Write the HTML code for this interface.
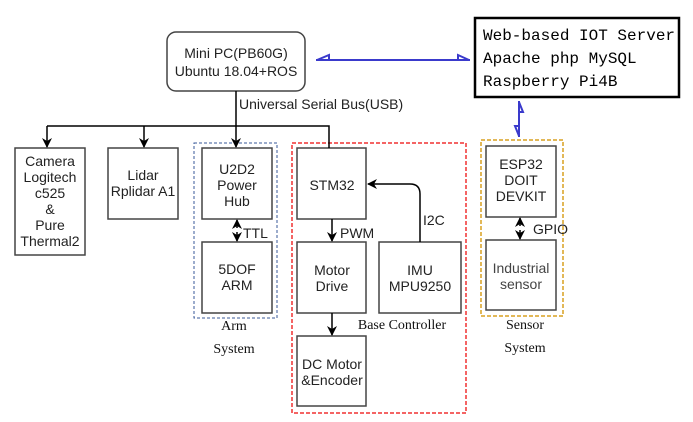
<!DOCTYPE html>
<html><head><meta charset="utf-8"><style>
html,body{margin:0;padding:0;background:#fff;width:693px;height:422px;overflow:hidden}
svg{display:block}
.s{font-family:"Liberation Sans",sans-serif;font-size:14px;fill:#222}
.r{font-family:"Liberation Serif",serif;font-size:14px;fill:#111}
.m{font-family:"Liberation Mono",monospace;font-size:16px;fill:#000}
</style></head><body>
<svg width="693" height="422" viewBox="0 0 693 422" xmlns="http://www.w3.org/2000/svg">
<defs>
<marker id="a" markerWidth="10" markerHeight="10" refX="9" refY="5" orient="auto" markerUnits="userSpaceOnUse"><path d="M0,0 L10,5 L0,10 L3,5 z" fill="#000"/></marker>
</defs>
<g stroke="#444" stroke-width="1.5" fill="#fff">
<rect x="167" y="32" width="138" height="59" rx="9"/>
<rect x="15" y="148" width="70" height="107"/>
<rect x="108" y="148" width="70" height="71"/>
<rect x="202" y="148" width="70" height="71"/>
<rect x="202" y="242" width="70" height="71"/>
<rect x="297" y="148" width="69" height="71"/>
<rect x="297" y="242" width="69" height="71"/>
<rect x="379" y="242" width="82" height="71"/>
<rect x="297" y="336" width="69" height="70"/>
<rect x="486" y="146" width="70" height="71"/>
<rect x="486" y="240" width="70" height="70"/>
</g>
<rect x="475" y="18" width="204" height="79" fill="#fff" stroke="#000" stroke-width="2.5"/>
<rect x="194" y="143" width="83" height="175" fill="none" stroke="#3a5a9a" stroke-width="1" stroke-dasharray="3,2"/>
<rect x="292" y="143" width="174" height="270" fill="none" stroke="#f03030" stroke-width="1.5" stroke-dasharray="4,2"/>
<rect x="481" y="140" width="82" height="176" fill="none" stroke="#d8a020" stroke-width="1.5" stroke-dasharray="4,2"/>
<g stroke="#000" stroke-width="1.5" fill="none">
<line x1="236" y1="91" x2="236" y2="147" marker-end="url(#a)"/>
<polyline points="47,126 329,126 329,148"/>
<line x1="47" y1="126" x2="47" y2="147" marker-end="url(#a)"/>
<line x1="144" y1="126" x2="144" y2="147" marker-end="url(#a)"/>
<line x1="332" y1="219" x2="332" y2="241" marker-end="url(#a)"/>
<line x1="332" y1="313" x2="332" y2="335" marker-end="url(#a)"/>
<path d="M420,242 L420,194 Q420,184 410,184 L368,184" marker-end="url(#a)"/>
<line x1="237" y1="228" x2="237" y2="220" marker-end="url(#a)"/>
<line x1="237" y1="232" x2="237" y2="241" marker-end="url(#a)"/>
<line x1="520" y1="226" x2="520" y2="218" marker-end="url(#a)"/>
<line x1="520" y1="230" x2="520" y2="239" marker-end="url(#a)"/>
</g>
<g stroke="#3a3acc" stroke-width="2" fill="none">
<line x1="316" y1="60" x2="470" y2="60"/>
<path d="M317,60 L329,55 L329,60"/>
<path d="M469,60 L458,55 L458,60"/>
<line x1="519" y1="101" x2="519" y2="137"/>
<path d="M519,102 L523,112 L519,112"/>
<path d="M519,136 L515,126 L519,126"/>
</g>
<g class="s" text-anchor="middle">
<text x="236" y="58">Mini PC(PB60G)</text>
<text x="236" y="76">Ubuntu 18.04+ROS</text>
<text x="50" y="166">Camera</text>
<text x="50" y="182">Logitech</text>
<text x="50" y="198">c525</text>
<text x="50" y="214">&amp;</text>
<text x="50" y="230">Pure</text>
<text x="50" y="246">Thermal2</text>
<text x="143" y="180">Lidar</text>
<text x="143" y="196">Rplidar A1</text>
<text x="237" y="174">U2D2</text>
<text x="237" y="190">Power</text>
<text x="237" y="206">Hub</text>
<text x="237" y="274">5DOF</text>
<text x="237" y="290">ARM</text>
<text x="332" y="190">STM32</text>
<text x="332" y="275">Motor</text>
<text x="332" y="291">Drive</text>
<text x="420" y="275">IMU</text>
<text x="420" y="291">MPU9250</text>
<text x="332" y="369">DC Motor</text>
<text x="332" y="385">&amp;Encoder</text>
<text x="521" y="169">ESP32</text>
<text x="521" y="185">DOIT</text>
<text x="521" y="201">DEVKIT</text>
<text x="521" y="273" fill="#444">Industrial</text>
<text x="521" y="289" fill="#444">sensor</text>
</g>
<g class="s">
<text x="239" y="109">Universal Serial Bus(USB)</text>
<text x="243" y="238">TTL</text>
<text x="340" y="238">PWM</text>
<text x="423" y="225">I2C</text>
<text x="533" y="234">GPIO</text>
</g>
<g class="r" text-anchor="middle">
<text x="234" y="330">Arm</text>
<text x="234" y="353">System</text>
<text x="402" y="329">Base Controller</text>
<text x="525" y="329">Sensor</text>
<text x="525" y="352">System</text>
</g>
<g class="m">
<text x="483" y="40">Web-based IOT Server</text>
<text x="483" y="63">Apache php MySQL</text>
<text x="483" y="86">Raspberry Pi4B</text>
</g>
</svg>
</body></html>
